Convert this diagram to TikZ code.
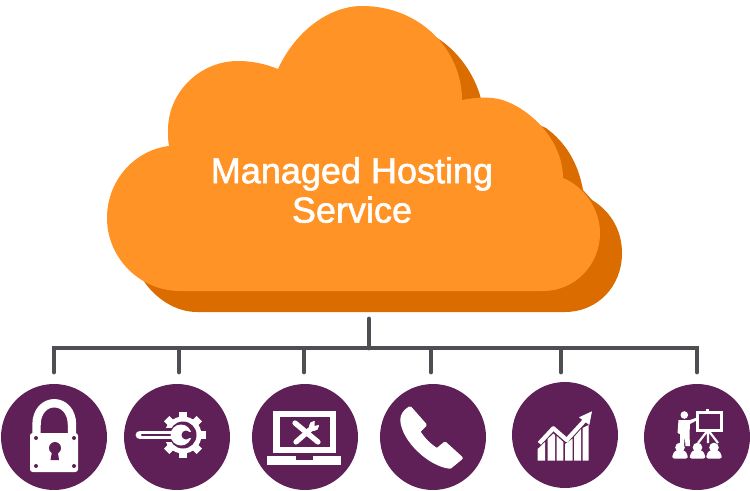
\documentclass[tikz,border=0pt]{standalone}
\usepackage{fontspec}
\setmainfont{Liberation Sans}
\newfontfamily\titlefont[FakeBold=1.5]{Liberation Sans}
\usepackage{xcolor}
\usetikzlibrary{positioning}
\definecolor{cloudfront}{HTML}{FF9326}
\definecolor{cloudback}{HTML}{DB6C00}
\definecolor{wiregray}{HTML}{4D4F52}
\definecolor{iconpurple}{HTML}{5E2056}
\tikzset{
  wire/.style={draw=wiregray, line width=2.8pt, line cap=round},
  iconcircle/.style={circle, fill=iconpurple, minimum size=2.12cm, inner sep=0pt},
  whiteline/.style={draw=white, line join=round},
  cloudtext/.style={text=white, align=center, font=\titlefont\fontsize{20.5}{22.4}\selectfont}
}
\begin{document}
\begin{tikzpicture}[x=0.02cm, y=-0.02cm]
\useasboundingbox (0,0) rectangle (750,490);

% Cloud
\fill[cloudback] (434,36) .. controls (458,50) and (475,75) .. (481,99) -- (546,128)
  .. controls (565,142) and (578,162) .. (583,190) -- (592,200)
  .. controls (612,212) and (622,232) .. (622,253)
  .. controls (622,287) and (597,312) .. (565,312) -- (197,312)
  .. controls (175,312) and (155,298) .. (143,280) -- cycle;
\fill[cloudfront] (278,69) .. controls (296,30) and (330,6) .. (362,6)
  .. controls (420,6) and (462,50) .. (462,100)
  .. controls (472,98) and (482,97) .. (492,98)
  .. controls (520,100) and (563,135) .. (563,178)
  .. controls (583,186) and (600,208) .. (600,233)
  .. controls (600,265) and (575,291) .. (543,291) -- (180,291)
  .. controls (140,291) and (107,258) .. (107,218)
  .. controls (107,180) and (135,150) .. (169,146)
  .. controls (168,141) and (168,136) .. (168,130)
  .. controls (168,92) and (200,61) .. (238,61)
  .. controls (252,61) and (266,64) .. (278,69) -- cycle;
\node[cloudtext] (title) at (352,190) {Managed Hosting\\Service};

% Icon circles
\node[iconcircle] (lock) at (54,437) {};
\node[iconcircle] (gear) at (177,437) {};
\node[iconcircle] (laptop) at (305,437) {};
\node[iconcircle] (phone) at (433,437) {};
\node[iconcircle] (chart) at (565,435) {};
\node[iconcircle] (talk) at (697,437) {};

% Connectors
\coordinate (stem) at (369,319);
\coordinate (hub) at (369,348);
\coordinate (dlock) at (54,372);
\coordinate (dgear) at (179,372);
\coordinate (dlaptop) at (304,372);
\coordinate (dphone) at (431,372);
\coordinate (dchart) at (561,372);
\coordinate (dtalk) at (697,372);
\draw[wire] (stem) -- (hub);
\foreach \d in {dlock,dgear,dlaptop,dphone,dchart,dtalk}
    \draw[wire] (hub) -| (\d);

% Lock
\draw[whiteline, line width=4.8pt] (36.5,435) -- (36.5,425) .. controls (36.5,396) and (72,396) .. (72,425) -- (72,435);
\fill[white, rounded corners=1.5pt] (30,433) rectangle (78,472);
\foreach \x/\y in {36/438,74/438,36/466,74/466}
    \fill[iconpurple] (\x,\y) circle (2);
\fill[iconpurple] (55,448) circle (6);
\fill[iconpurple] (52.5,449) -- (50.5,460) -- (59,460) -- (57.5,449) -- cycle;

% Gear and wrench
\fill[white] (183,435) circle (18.5);
\foreach \a in {0,45,...,315}
    \draw[white, line width=4.4pt] ({183+16*cos(\a)},{435+16*sin(\a)}) -- ({183+23*cos(\a)},{435+23*sin(\a)});
\fill[iconpurple] (183,435) circle (13.5);
\draw[iconpurple, line width=7.5pt] (155,435) -- (172,435);
\fill[white] (181,435) circle (10.5);
\draw[white, line width=5pt, line cap=round] (140,435) -- (176,435);
\draw[iconpurple, line width=1.4pt, line cap=round] (142,435) -- (170,435);
\fill[iconpurple] (186,435) circle (4.5);
\fill[iconpurple] (186,432) rectangle (193,438);

% Laptop
\draw[white, line width=3.6pt] (276.5,414) rectangle (333,450);
\fill[white] (267,456) rectangle (341,465);
\fill[iconpurple] (296,456) rectangle (313,459.5);
\draw[white, line width=3pt, line cap=round] (295,423) -- (318,442);
\draw[white, line width=3pt, line cap=round] (296,442) -- (312,428);
\fill[white] (314,426) circle (5);
\fill[iconpurple] (315,419) -- (321,424) -- (314.5,426) -- cycle;

% Phone
\fill[white, draw=white, line width=2pt, line join=round] (410,408) -- (425,425) -- (418.5,431.5)
  .. controls (424,440) and (429,445) .. (437,450) -- (445,443.5) -- (461,458) -- (450,467)
  .. controls (430,465) and (403,440) .. (402,420) .. controls (402,415) and (405,411) .. (410,408) -- cycle;

% Chart
\fill[white] (537.7,449) -- (545,442) -- (545,460.7) -- (537.7,460.7) -- cycle;
\fill[white] (547.7,439) -- (553.3,433.5) -- (555,435) -- (555,460.7) -- (547.7,460.7) -- cycle;
\fill[white] (556.7,436) -- (563.3,442) -- (563.3,460.7) -- (556.7,460.7) -- cycle;
\fill[white] (565,444) -- (572.7,438.5) -- (572.7,460.7) -- (565,460.7) -- cycle;
\fill[white] (574,437) -- (581,429) -- (581,460.7) -- (574,460.7) -- cycle;
\fill[white] (582.5,428) -- (588.7,425) -- (588.7,460.7) -- (582.5,460.7) -- cycle;
\draw[white, line width=2.4pt, line join=round] (539.3,443.3) -- (553.3,428.3) -- (566.7,440) -- (585,420);
\fill[white] (592,411.3) -- (579,417.3) -- (589.3,425) -- cycle;

% Presenter and audience
\draw[white, line width=1.7pt] (697.5,412.5) rectangle (721,430);
\draw[white, line width=1.2pt] (707.5,408.5) -- (707.5,412);
\draw[white, line width=1.2pt] (708,430) -- (698,443) (708,430) -- (708,443) (708,430) -- (718,443);
\fill[white] (684.3,415) circle (3.8);
\fill[white] (678.5,420) -- (690,420) -- (697,417.5) -- (697.5,420) -- (690,424) -- (689.5,434) -- (690,446) -- (685.5,446)
  -- (684.8,436) -- (684,446) -- (680,446) -- (680,434) -- (677.5,433) -- cycle;
\foreach \x in {680,697.5,714}
    \fill[white] (\x,447.5) circle (4.8);
\foreach \x in {680,697.5,714}
    \fill[white, rounded corners=1.5pt] (\x-5.5,450.5) -- (\x+5.5,450.5) -- (\x+8.5,458.5) -- (\x-8.5,458.5) -- cycle;
\end{tikzpicture}
\end{document}
